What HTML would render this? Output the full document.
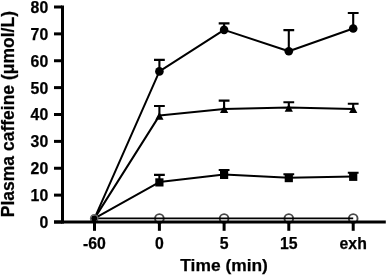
<!DOCTYPE html>
<html><head><meta charset="utf-8"><title>Plasma caffeine</title>
<style>
html,body{margin:0;padding:0;background:#fff;}
svg{display:block;}
text{font-family:"Liberation Sans",Arial,sans-serif;font-weight:bold;fill:#000;stroke:#000;stroke-width:0.25px;}
</style></head><body>
<svg width="387" height="277" viewBox="0 0 387 277">
<rect width="387" height="277" fill="#fff"/>

<circle cx="159.4" cy="218.5" r="4.35" fill="none" stroke="#484848" stroke-width="1.9"/>
<circle cx="224.1" cy="218.5" r="4.35" fill="none" stroke="#484848" stroke-width="1.9"/>
<circle cx="288.8" cy="218.5" r="4.35" fill="none" stroke="#484848" stroke-width="1.9"/>
<circle cx="353.2" cy="218.5" r="4.35" fill="none" stroke="#484848" stroke-width="1.9"/>
<g fill="none" stroke="#000" stroke-width="1.6" stroke-linejoin="round">
<polyline points="94.5,218.4 159.4,218.4 224.1,218.4 288.8,218.4 353.2,218.4" stroke-width="1.7"/>
<polyline points="94.5,218.4 159.4,182.1 224.1,174.6 288.8,177.8 353.2,176.5" stroke-width="2"/>
<polyline points="94.5,218.4 159.4,115.6 224.1,108.9 288.8,107.6 353.2,108.9" stroke-width="2"/>
<polyline points="94.5,218.4 159.4,71.4 224.1,29.9 288.8,51.3 353.2,28.5" stroke-width="2"/>
<path d="M159.4 182.1V174.9M154.0 174.9H164.8" stroke-width="2.1"/>
<path d="M224.1 174.6V170.0M218.7 170.0H229.5" stroke-width="2.1"/>
<path d="M288.8 177.8V174.3M283.4 174.3H294.2" stroke-width="2.1"/>
<path d="M353.2 176.5V172.7M347.8 172.7H358.6" stroke-width="2.1"/>
<path d="M159.4 115.6V106.0M154.0 106.0H164.8" stroke-width="2.1"/>
<path d="M224.1 108.9V100.6M218.7 100.6H229.5" stroke-width="2.1"/>
<path d="M288.8 107.6V102.2M283.4 102.2H294.2" stroke-width="2.1"/>
<path d="M353.2 108.9V103.8M347.8 103.8H358.6" stroke-width="2.1"/>
<path d="M159.4 71.4V59.9M154.0 59.9H164.8" stroke-width="2.1"/>
<path d="M224.1 29.9V23.4M218.7 23.4H229.5" stroke-width="2.1"/>
<path d="M288.8 51.3V30.1M283.4 30.1H294.2" stroke-width="2.1"/>
<path d="M353.2 28.5V13.0M347.8 13.0H358.6" stroke-width="2.1"/>
</g>
<rect x="155.3" y="178.3" width="8.2" height="8.2"/>
<path d="M159.4 112.0L163.5 119.7H155.3Z"/>
<rect x="220.0" y="170.8" width="8.2" height="8.2"/>
<path d="M224.1 105.3L228.2 113.0H220.0Z"/>
<rect x="284.7" y="174.0" width="8.2" height="8.2"/>
<path d="M288.8 104.0L292.9 111.7H284.7Z"/>
<rect x="349.1" y="172.7" width="8.2" height="8.2"/>
<path d="M353.2 105.3L357.3 113.0H349.1Z"/>
<circle cx="159.4" cy="71.4" r="4.3"/>
<circle cx="224.1" cy="29.9" r="4.3"/>
<circle cx="288.8" cy="51.3" r="4.3"/>
<circle cx="353.2" cy="28.5" r="4.3"/>
<circle cx="94.2" cy="218.4" r="3.1"/>
<circle cx="94.2" cy="218.4" r="3.65" fill="none" stroke="#666" stroke-width="1.4"/>
<g stroke="#000" stroke-width="3" fill="none">
<path d="M62.5 5.5V223.6"/>
<path d="M54 222H385.8" stroke-width="3.2"/>
<path d="M54 222.00H62"/>
<path d="M54 195.12H62"/>
<path d="M54 168.25H62"/>
<path d="M54 141.38H62"/>
<path d="M54 114.50H62"/>
<path d="M54 87.62H62"/>
<path d="M54 60.75H62"/>
<path d="M54 33.88H62"/>
<path d="M54 7.00H62"/>
<path d="M94.5 222V230.8"/>
<path d="M159.4 222V230.8"/>
<path d="M224.1 222V230.8"/>
<path d="M288.8 222V230.8"/>
<path d="M353.2 222V230.8"/>
</g>
<text x="48.2" y="227.9" font-size="15.8" text-anchor="end">0</text>
<text x="48.2" y="201.0" font-size="15.8" text-anchor="end">10</text>
<text x="48.2" y="174.2" font-size="15.8" text-anchor="end">20</text>
<text x="48.2" y="147.3" font-size="15.8" text-anchor="end">30</text>
<text x="48.2" y="120.4" font-size="15.8" text-anchor="end">40</text>
<text x="48.2" y="93.5" font-size="15.8" text-anchor="end">50</text>
<text x="48.2" y="66.7" font-size="15.8" text-anchor="end">60</text>
<text x="48.2" y="39.8" font-size="15.8" text-anchor="end">70</text>
<text x="48.2" y="12.9" font-size="15.8" text-anchor="end">80</text>
<text x="94.5" y="248.5" font-size="15.8" text-anchor="middle">-60</text>
<text x="159.4" y="248.5" font-size="15.8" text-anchor="middle">0</text>
<text x="224.1" y="248.5" font-size="15.8" text-anchor="middle">5</text>
<text x="288.8" y="248.5" font-size="15.8" text-anchor="middle">15</text>
<text x="353.2" y="248.5" font-size="15.8" text-anchor="middle">exh</text>
<text x="224.1" y="271.3" font-size="17.4" text-anchor="middle">Time (min)</text>
<text transform="translate(14.2 114.1) rotate(-90)" font-size="17.5" text-anchor="middle">Plasma caffeine (μmol/L)</text>
</svg></body></html>
